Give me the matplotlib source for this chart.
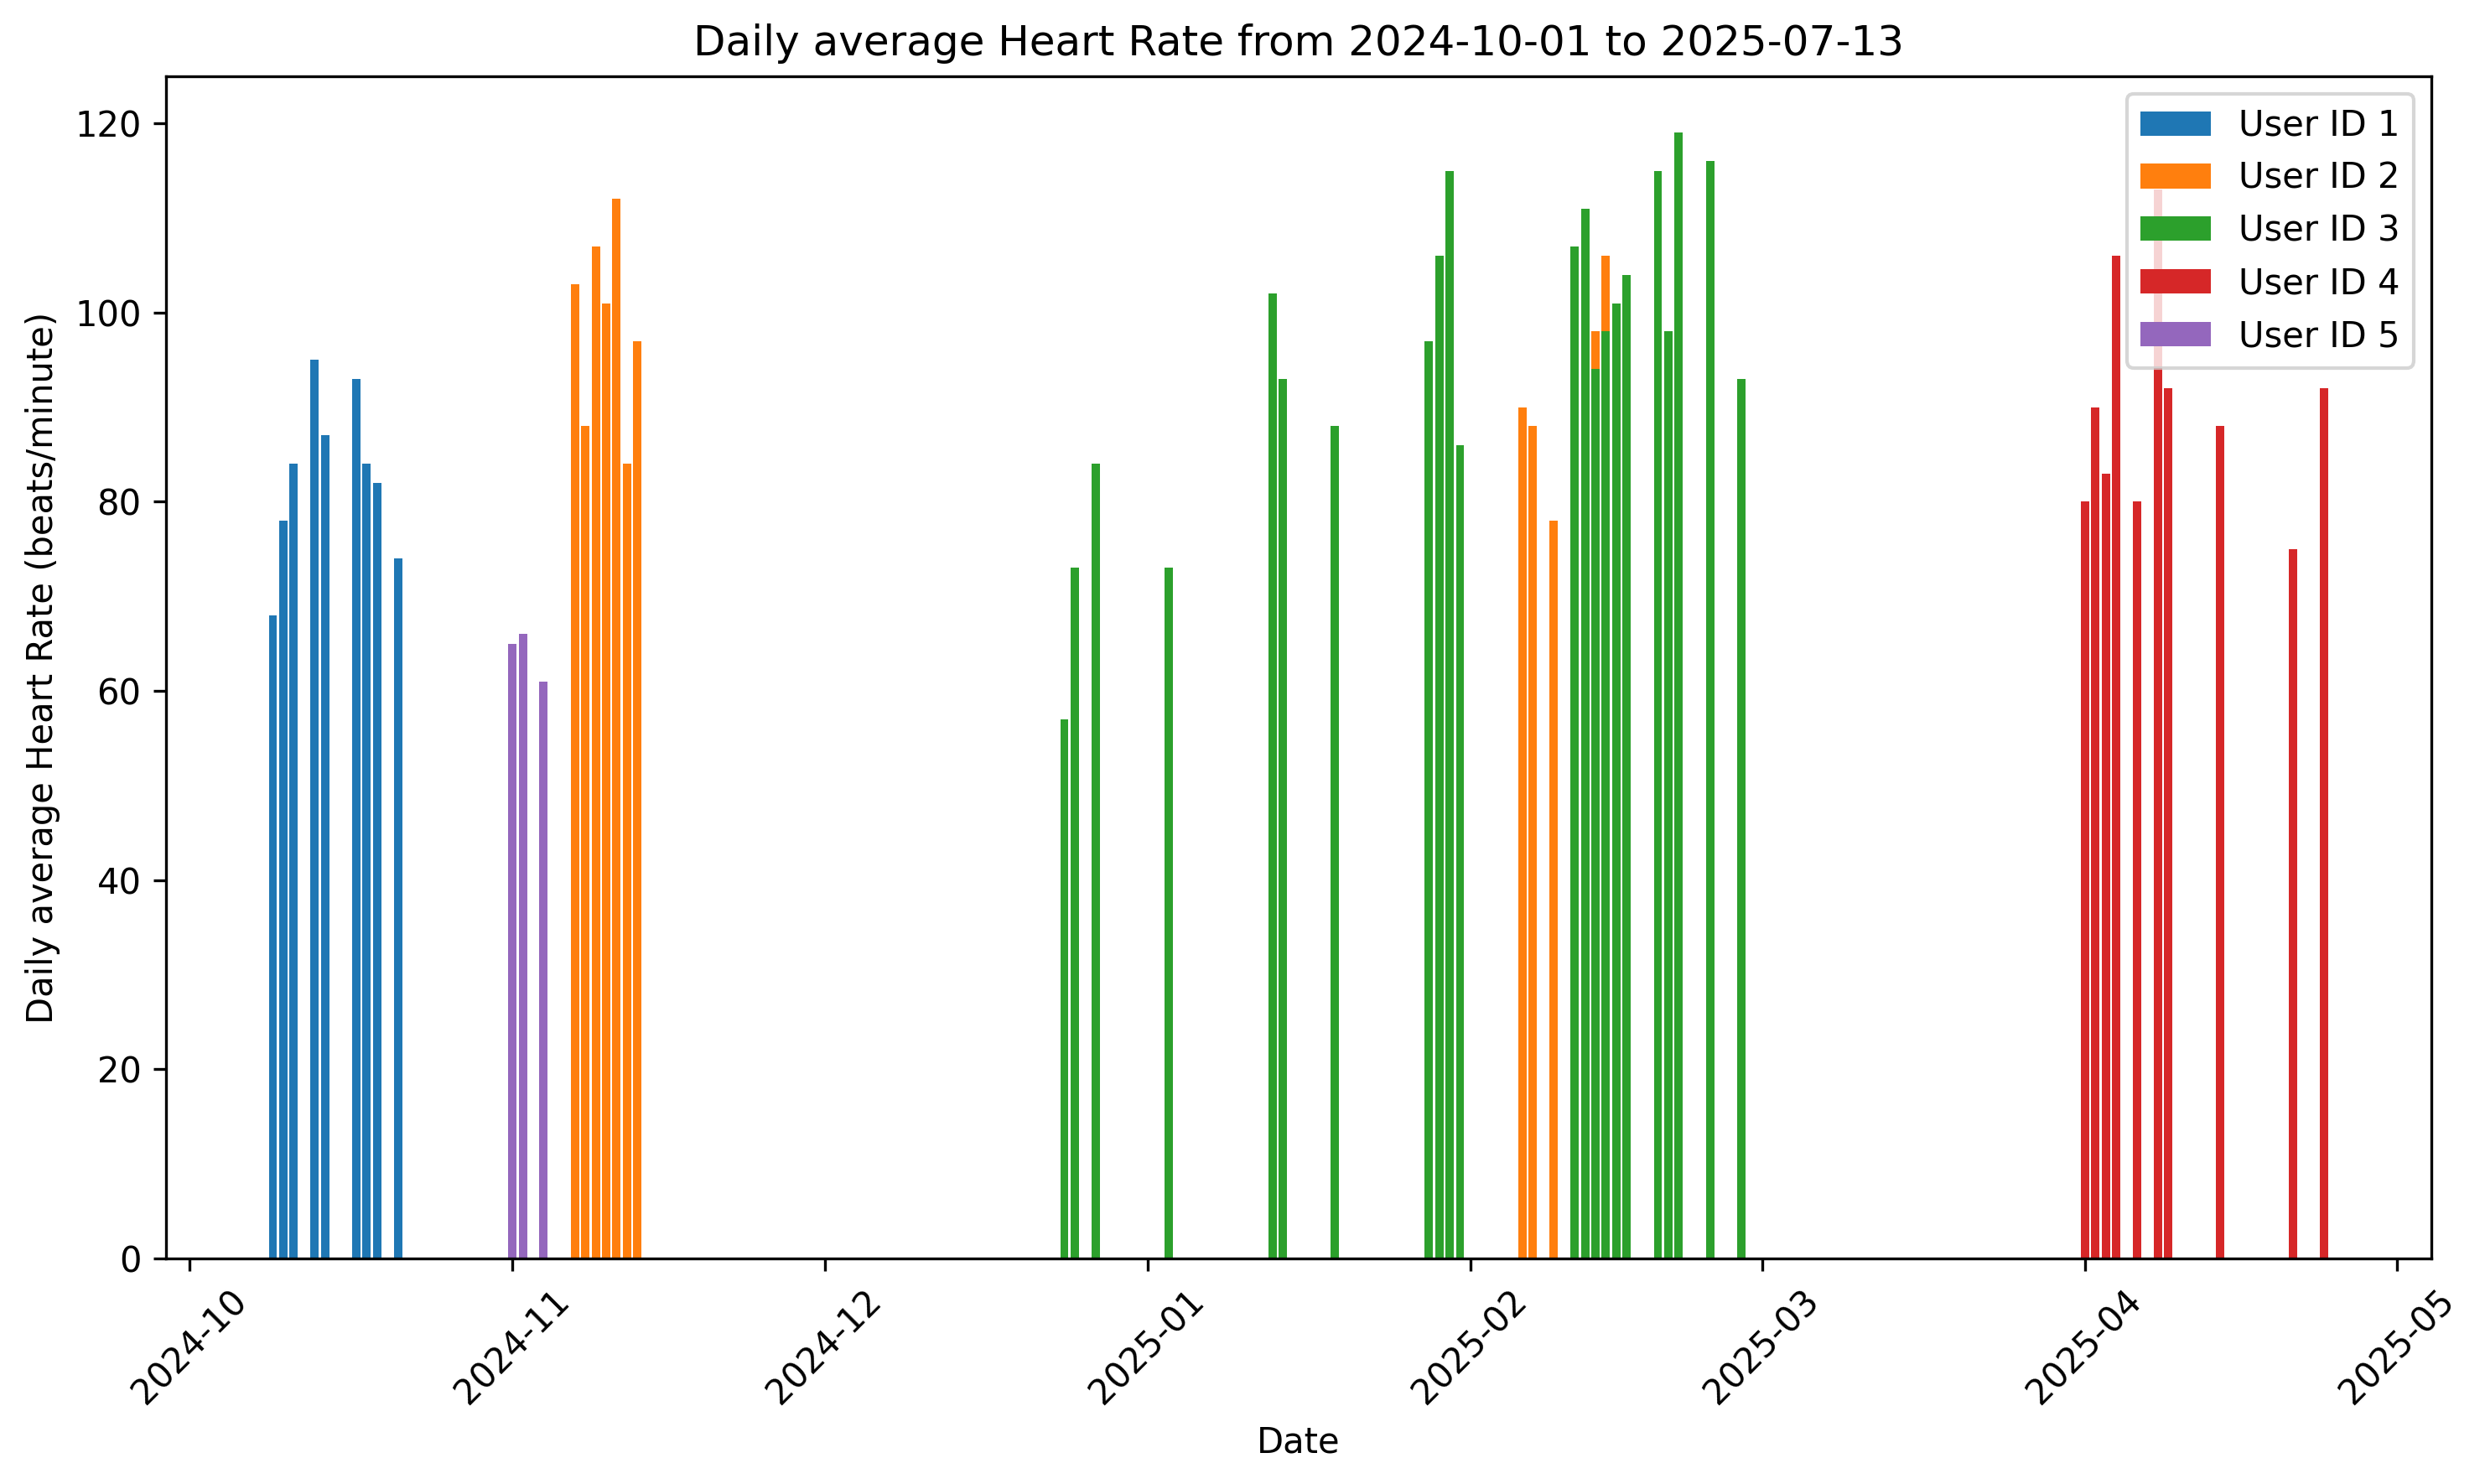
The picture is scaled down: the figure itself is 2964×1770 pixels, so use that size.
import pandas as pd
import matplotlib.pyplot as plt

# Dzienne średnie tętno dla każdego użytkownika
user1_dates = ["2024-10-09", "2024-10-10", "2024-10-11", "2024-10-13", "2024-10-14",
               "2024-10-17", "2024-10-18", "2024-10-19", "2024-10-21"]
user1_hr = [68, 78, 84, 95, 87, 93, 84, 82, 74]

user2_dates = ["2024-11-07", "2024-11-08", "2024-11-09", "2024-11-10", "2024-11-11",
               "2024-11-12", "2024-11-13", "2025-02-06", "2025-02-07", "2025-02-09",
               "2025-02-13", "2025-02-14"]
user2_hr = [103, 88, 107, 101, 112, 84, 97, 90, 88, 78, 98, 106]

user3_dates = ["2024-12-24", "2024-12-25", "2024-12-27", "2025-01-03", "2025-01-13",
               "2025-01-14", "2025-01-19", "2025-01-28", "2025-01-29", "2025-01-30",
               "2025-01-31", "2025-02-11", "2025-02-12", "2025-02-13", "2025-02-14",
               "2025-02-15", "2025-02-16", "2025-02-19", "2025-02-20", "2025-02-21",
               "2025-02-24", "2025-02-27"]
user3_hr = [57, 73, 84, 73, 102, 93, 88, 97, 106, 115, 86, 107, 111, 94, 98,
            101, 104, 115, 98, 119, 116, 93]

user4_dates = ["2025-04-01", "2025-04-02", "2025-04-03", "2025-04-04", "2025-04-06",
               "2025-04-08", "2025-04-09", "2025-04-14", "2025-04-21", "2025-04-24"]
user4_hr = [80, 90, 83, 106, 80, 113, 92, 88, 75, 92]

user5_dates = ["2024-11-01", "2024-11-02", "2024-11-04"]
user5_hr = [65, 66, 61]

users = [
    ("User ID 1", user1_dates, user1_hr),
    ("User ID 2", user2_dates, user2_hr),
    ("User ID 3", user3_dates, user3_hr),
    ("User ID 4", user4_dates, user4_hr),
    ("User ID 5", user5_dates, user5_hr),
]

fig, ax = plt.subplots(figsize=(9.88, 5.9))
fig.subplots_adjust(left=0.0667, right=0.9785, bottom=0.152, top=0.9484)

for label, dates, hr in users:
    ax.bar(pd.to_datetime(dates), hr, width=0.8, label=label)

ax.set_title("Daily average Heart Rate from 2024-10-01 to 2025-07-13")
ax.set_xlabel("Date")
ax.set_ylabel("Daily average Heart Rate (beats/minute)")
ax.legend(loc="upper right")
plt.setp(ax.get_xticklabels(), rotation=45)

plt.savefig("out.png", dpi=300)
plt.close()
